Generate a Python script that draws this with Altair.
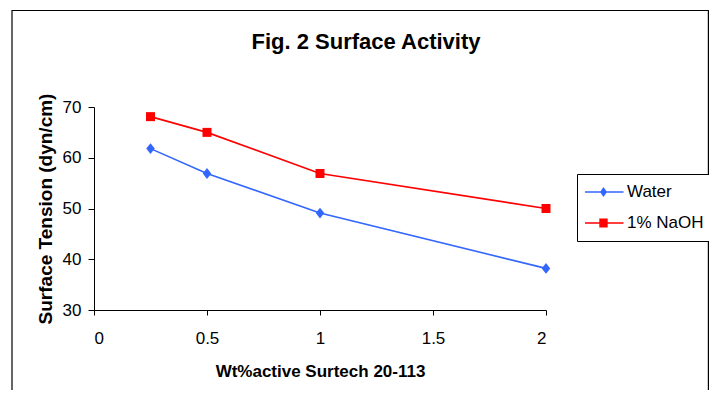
import altair as alt
import pandas as pd

# ---- data ----
conc = [0.25, 0.5, 1, 2]
water = [61.8, 56.9, 49.1, 38.2]
naoh = [68.1, 65.0, 56.9, 50.0]
series_names = ["Water", "1% NaOH"]
series_colors = ["#3366FF", "#FF0000"]
x_ticks = [0, 0.5, 1, 1.5, 2]
y_ticks = [30, 40, 50, 60, 70]

rows = []
for name, vals in zip(series_names, [water, naoh]):
    for c, v in zip(conc, vals):
        rows.append({"conc": c, "tension": v, "series": name})
df = pd.DataFrame(rows)

FONT = "Liberation Sans"

# marker glyphs (custom paths)
diamond_path = "M0,-1.08L0.85,0L0,1.08L-0.85,0Z"
legend_water = ("M-2.86,-0.1L2.86,-0.1L2.86,0.1L-2.86,0.1Z "
                "M0,-0.71L0.5,0L0,0.71L-0.5,0Z")
legend_naoh = ("M-2.86,-0.1L2.86,-0.1L2.86,0.1L-2.86,0.1Z "
               "M-0.6,-0.64L0.6,-0.64L0.6,0.64L-0.6,0.64Z")

x_enc = alt.X(
    "conc:Q",
    scale=alt.Scale(domain=[0, 2], nice=False, zero=False),
    axis=alt.Axis(values=x_ticks, title="Wt%active Surtech 20-113", format="~g",
                  tickSize=5, labelPadding=15, titlePadding=17, titleFontSize=17),
)
y_enc = alt.Y(
    "tension:Q",
    scale=alt.Scale(domain=[30, 70], nice=False, zero=False),
    axis=alt.Axis(values=y_ticks, title="Surface Tension (dyn/cm)",
                  tickSize=6, labelPadding=7, titlePadding=7, titleFontSize=19),
)
color_scale = alt.Scale(domain=series_names, range=series_colors)

base = alt.Chart(df)

frame = alt.Chart(alt.Data(values=[{"k": 1}])).mark_rect(
    fill="transparent", stroke="black", strokeWidth=1.2
).encode(
    x=alt.value(-82), x2=alt.value(614.4), y=alt.value(-96.5), y2=alt.value(320)
)

leg = alt.Legend(
    title=None, orient="none", legendX=483, legendY=67,
    strokeColor="black", fillColor="white", padding=8,
    rowPadding=11, clipHeight=20, symbolSize=196, symbolStrokeWidth=0,
    symbolOpacity=1, symbolOffset=10, labelOffset=15,
    labelFont=FONT, labelFontSize=17, labelColor="black",
)

legend_layer = base.mark_point(filled=True, opacity=0).encode(
    x=x_enc, y=y_enc,
    color=alt.Color("series:N", scale=color_scale, legend=leg),
    shape=alt.Shape("series:N",
                    scale=alt.Scale(domain=series_names, range=[legend_water, legend_naoh]),
                    legend=leg),
)

layers = [frame, legend_layer]
marker_shapes = [diamond_path, "square"]
marker_sizes = [100, 81]
for name, col, shp, sz in zip(series_names, series_colors, marker_shapes, marker_sizes):
    sub = base.transform_filter(alt.datum.series == name)
    layers.append(sub.mark_line(strokeWidth=1.6, color=col).encode(x=x_enc, y=y_enc))
    layers.append(sub.mark_point(filled=True, opacity=1, shape=shp, size=sz, color=col)
                  .encode(x=x_enc, y=y_enc))

chart = alt.layer(*layers).properties(
    width=452,
    height=203,
    padding={"left": 86, "top": 99, "right": 163, "bottom": 80},
    autosize=alt.AutoSizeParams(type="none"),
    title=alt.TitleParams(
        "Fig. 2 Surface Activity", font=FONT, fontSize=22, fontWeight="bold",
        anchor="middle", dx=46, offset=-61, baseline="alphabetic", color="black",
    ),
).configure_axis(
    labelFont=FONT, titleFont=FONT, labelFontSize=17, labelColor="black",
    titleColor="black", titleFontWeight="bold", domainColor="black",
    tickColor="black", domainWidth=1, tickWidth=1, grid=False,
).configure_view(stroke="transparent")

chart.save("out.html", embed_options={"renderer": "svg", "actions": False})
